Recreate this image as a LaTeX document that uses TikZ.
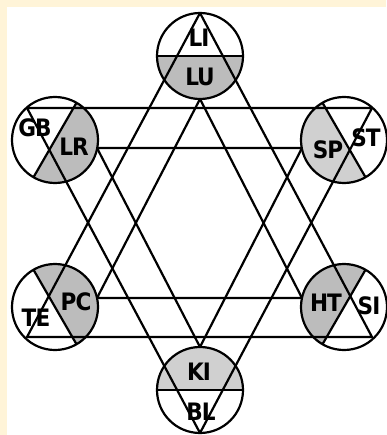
\documentclass[tikz,border=0pt]{standalone}
\usepackage{fontspec}
\setmainfont{DejaVu Sans Condensed}[BoldFont={DejaVu Sans Condensed Bold}]
\newfontfamily\lblfont{DejaVu Sans Condensed Bold}[LetterSpace=-4]
\definecolor{cream}{HTML}{FFF4D8}
\definecolor{gA}{HTML}{BCBCBC}
\definecolor{gB}{HTML}{D0D0D0}
\begin{document}
\begin{tikzpicture}[x=1pt,y=-1pt,line width=2.2pt,
  lbl/.style={font=\lblfont\fontsize{24}{24}\selectfont,inner sep=0pt},
  ring/.style={draw=black,line width=2.2pt},
  edge/.style={draw=black,line width=2.2pt,line join=round}]
\useasboundingbox (0,0) rectangle (386,435);
\fill[cream] (0,0) rectangle (386,435);
\fill[white] (7,7) rectangle (386,435);
\def\R{43}
% circle centres
\coordinate (cLU) at (200,56);
\coordinate (cLR) at (55,140);
\coordinate (cSP) at (344,140);
\coordinate (cPC) at (55,307);
\coordinate (cHT) at (344,307);
\coordinate (cKI) at (200,390);
% white discs
\foreach \c in {cLU,cLR,cSP,cPC,cHT,cKI}{\fill[white] (\c) circle[radius=\R];}
% grey halves
\fill[gA] (cLU) ++(0:\R) arc[start angle=0,end angle=180,radius=\R] -- cycle;
\fill[gA] (cLR) ++(-60:\R) arc[start angle=-60,end angle=120,radius=\R] -- cycle;
\fill[gB] (cSP) ++(60:\R) arc[start angle=60,end angle=240,radius=\R] -- cycle;
\fill[gA] (cPC) ++(240:\R) arc[start angle=240,end angle=420,radius=\R] -- cycle;
\fill[gA] (cHT) ++(120:\R) arc[start angle=120,end angle=300,radius=\R] -- cycle;
\fill[gB] (cKI) ++(180:\R) arc[start angle=180,end angle=360,radius=\R] -- cycle;
% diameters
\draw (cLU) +(0:\R) -- +(180:\R);
\draw (cLR) +(-60:\R) -- +(120:\R);
\draw (cSP) +(60:\R) -- +(240:\R);
\draw (cPC) +(240:\R) -- +(60:\R);
\draw (cHT) +(120:\R) -- +(300:\R);
\draw (cKI) +(180:\R) -- +(0:\R);
% triangle vertices
\coordinate (A1) at (200,13);
\coordinate (A2) at (27,337);
\coordinate (A3) at (372,337);
\coordinate (B1) at (200,433);
\coordinate (B2) at (27,108);
\coordinate (B3) at (372,108);
\coordinate (C1) at (200,99);
\coordinate (C2) at (97,298);
\coordinate (C3) at (302,298);
\coordinate (D1) at (200,347);
\coordinate (D2) at (97,148);
\coordinate (D3) at (302,148);
\draw[edge] (A1) -- (A2) -- (A3) -- cycle;
\draw[edge] (B1) -- (B2) -- (B3) -- cycle;
\draw[edge] (C1) -- (C2) -- (C3) -- cycle;
\draw[edge] (D1) -- (D2) -- (D3) -- cycle;
% circle outlines
\foreach \c in {cLU,cLR,cSP,cPC,cHT,cKI}{\draw[ring] (\c) circle[radius=\R];}
% labels
\node[lbl] (LI) at (199,38) {LI};
\node[lbl] (LU) at (200,77) {LU};
\node[lbl] (GB) at (35,128) {GB};
\node[lbl] (LR) at (74,147) {LR};
\node[lbl] (SP) at (328,150) {SP};
\node[lbl] (ST) at (366,138) {ST};
\node[lbl] (PC) at (76,302) {PC};
\node[lbl] (TE) at (36,318) {TE};
\node[lbl] (HT) at (326,303) {HT};
\node[lbl] (SI) at (369,306) {SI};
\node[lbl] (KI) at (199,372) {KI};
\node[lbl] (BL) at (201,412) {BL};
\end{tikzpicture}
\end{document}
